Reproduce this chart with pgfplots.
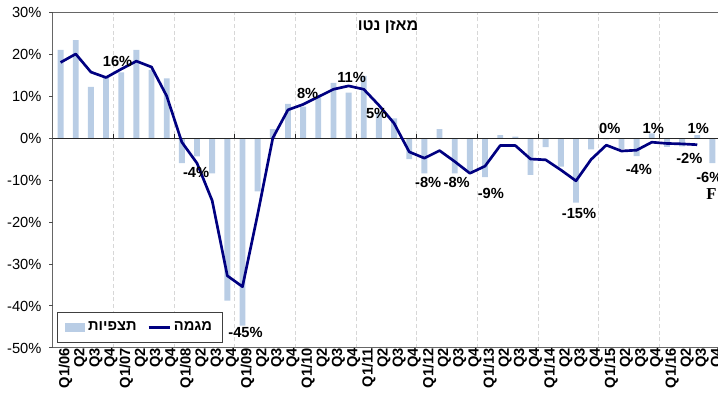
\documentclass[border=0pt]{standalone}
\usepackage{fontspec}
\setmainfont{Liberation Sans}
\newfontfamily\hebfont[Script=Hebrew]{Liberation Sans}
\newfontfamily\seriffont{Liberation Serif}
\TeXXeTstate=1
\usepackage{pgfplots}
\pgfplotsset{compat=1.18}
\definecolor{barblue}{RGB}{185,205,229}
\definecolor{navy}{RGB}{0,0,128}
\definecolor{gridgray}{RGB}{215,215,215}

\pgfplotstableread{
x y
0 21.0
1 23.3
2 12.2
3 14.3
4 15.6
5 21.0
6 16.2
7 14.2
8 -6.0
9 -4.4
10 -8.4
11 -38.7
12 -44.7
13 -12.7
14 2.1
15 8.1
16 7.5
17 9.7
18 13.1
19 10.8
20 14.8
21 6.2
22 4.7
23 -5.0
24 -8.4
25 2.1
26 -8.4
27 -8.2
28 -9.3
29 0.7
30 0.3
31 -8.8
32 -2.2
33 -6.8
34 -15.4
35 -2.7
36 -0.3
37 -2.6
38 -4.3
39 1.1
40 -2.1
41 -2.0
42 0.7
43 -6.0
}\obs

\pgfplotstableread{
x y
0 18.0
1 20.0
2 15.7
3 14.4
4 16.4
5 18.3
6 16.9
7 10.0
8 -1.0
9 -6.0
10 -14.9
11 -32.8
12 -35.4
13 -18.2
14 0.0
15 6.7
16 8.0
17 9.8
18 11.6
19 12.4
20 11.6
21 7.8
22 3.5
23 -3.3
24 -4.8
25 -3.0
26 -5.6
27 -8.4
28 -6.7
29 -1.8
30 -1.8
31 -5.0
32 -5.2
33 -7.6
34 -10.2
35 -5.1
36 -1.7
37 -3.1
38 -2.9
39 -1.0
40 -1.3
41 -1.4
42 -1.6
}\trend

\begin{document}
\fontsize{11}{13}\selectfont
\begin{tikzpicture}
\begin{axis}[
  scale only axis,
  width=500.25pt, height=252pt,
  xmin=-0.5, xmax=43.5, ymin=-50, ymax=30,
  clip=false,
  ytick={-50,-40,...,30},
  yticklabels={-50\%,-40\%,-30\%,-20\%,-10\%,0\%,10\%,20\%,30\%},
  xtick={0,...,43},
  xticklabels={Q1/06,Q2,Q3,Q4,Q1/07,Q2,Q3,Q4,Q1/08,Q2,Q3,Q4,Q1/09,Q2,Q3,Q4,Q1/10,Q2,Q3,Q4,Q1/11,Q2,Q3,Q4,Q1/12,Q2,Q3,Q4,Q1/13,Q2,Q3,Q4,Q1/14,Q2,Q3,Q4,Q1/15,Q2,Q3,Q4,Q1/16,Q2,Q3,Q4},
  x tick label style={rotate=90, anchor=east, font=\fontsize{11}{13}\selectfont\bfseries, inner sep=0pt, yshift=-3.75pt},
  y tick label style={anchor=east, inner sep=0pt, xshift=-8.5pt, font=\fontsize{11}{13}\selectfont},
  minor xtick={3.5,7.5,...,39.5},
  xminorgrids,
  minor grid style={gridgray, dash pattern=on 3pt off 2pt, line width=0.75pt},
  major tick length=0pt,
  minor tick length=0pt,
  axis line style={black!60, line width=0.75pt},
  legend columns=2,
  legend cell align=left,
  legend style={at={(0.006,0.015)}, anchor=south west, draw=black!75, line width=0.75pt,
    inner xsep=6pt, inner ysep=5pt, font=\fontsize{11}{13}\selectfont\hebfont\bfseries,
    /tikz/every even column/.append style={column sep=6pt}},
]
\addplot[ybar, bar width=4.4pt, fill=barblue, draw=none,
  legend image code/.code={\fill[barblue] (0pt,-3.2pt) rectangle (15pt,3.2pt);}] table[x=x,y=y] {\obs};
\addlegendentry{\beginR תצפיות\endR}

\draw[black!85, line width=0.75pt] (axis cs:-0.5,0) -- (axis cs:43.5,0);
\pgfplotsinvokeforeach{3.5,7.5,11.5,15.5,19.5,23.5,27.5,31.5,35.5,39.5}{
  \draw[black!85, line width=0.75pt] (axis cs:#1,0) -- ++(0pt,3pt);
}
\pgfplotsinvokeforeach{-50,-40,-30,-20,-10,0,10,20,30}{
  \draw[black!70, line width=0.75pt] (axis cs:-0.5,#1) -- ++(-3pt,0pt);
}

\addplot[navy, line width=2pt, mark=none, line join=round,
  legend image code/.code={\draw[navy, line width=2pt] (0pt,0pt) -- (16pt,0pt);}] table[x=x,y=y] {\trend};
\addlegendentry{\beginR מגמה\endR}

\begin{scope}[every node/.style={font=\fontsize{11}{13}\selectfont\bfseries}]
\node at (axis cs:3.76,18.33) {16\%};
\node at (axis cs:8.94,-8.1) {-4\%};
\node at (axis cs:12.2,-46.4) {-45\%};
\node at (axis cs:16.3,10.6) {8\%};
\node at (axis cs:19.2,14.5) {11\%};
\node at (axis cs:20.85,5.83) {5\%};
\node at (axis cs:24.25,-10.7) {-8\%};
\node at (axis cs:26.13,-10.7) {-8\%};
\node at (axis cs:28.38,-13.1) {-9\%};
\node at (axis cs:34.2,-18.0) {-15\%};
\node at (axis cs:36.23,2.38) {0\%};
\node at (axis cs:38.15,-7.38) {-4\%};
\node at (axis cs:39.1,2.38) {1\%};
\node at (axis cs:42.07,2.38) {1\%};
\node at (axis cs:41.48,-4.76) {-2\%};
\node at (axis cs:42.8,-9.5) {-6\%};
\end{scope}
\node[font=\fontsize{12.5}{14}\selectfont\seriffont\bfseries] at (axis cs:42.93,-13.3) {F};
\node[font=\fontsize{12}{14}\selectfont\hebfont\bfseries] at (axis cs:21.6,26.4) {\beginR מאזן נטו\endR};
\end{axis}
\pgfresetboundingbox
\path (-39.75pt,-41.25pt) rectangle (498.75pt,261pt);
\end{tikzpicture}
\end{document}
